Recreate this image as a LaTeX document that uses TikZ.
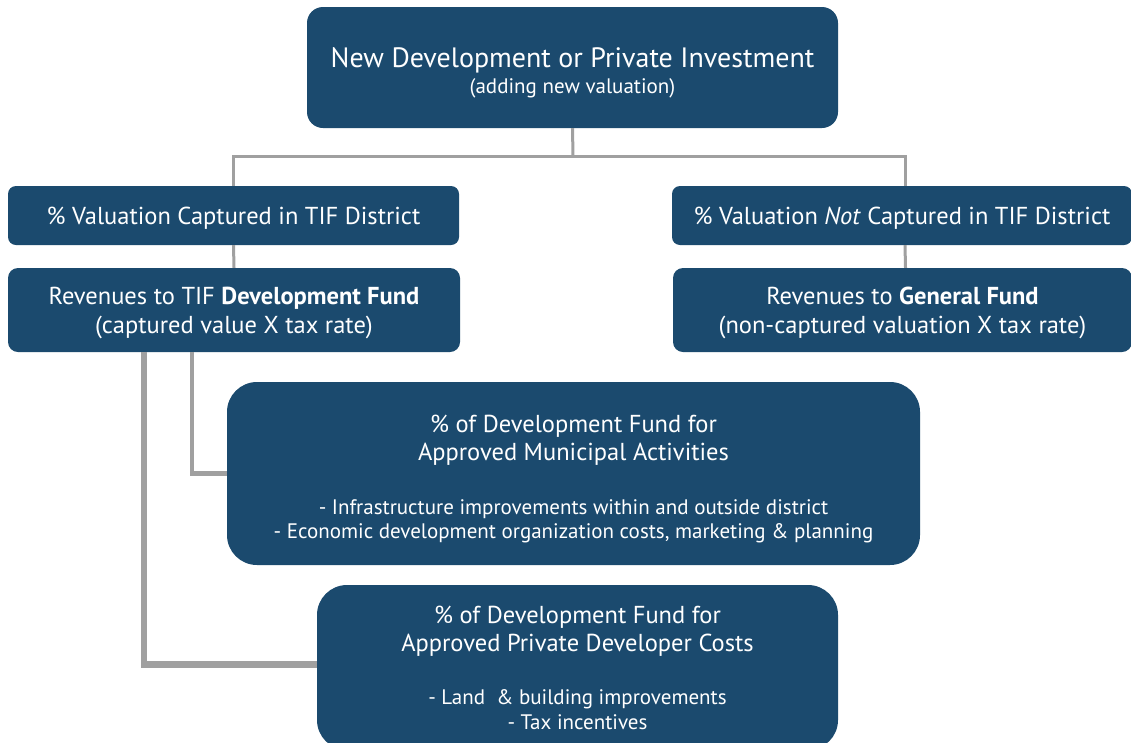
\documentclass[tikz,border=0pt]{standalone}
\usepackage{fontspec}
\setmainfont{PT Sans}
\definecolor{boxblue}{RGB}{27,74,110}
\definecolor{linegray}{RGB}{160,160,160}
\newcommand{\subsz}{\fontsize{21}{24}\selectfont}
\tikzset{
  box/.style={fill=boxblue, draw=none, rectangle, inner sep=0pt},
  txt/.style={text=white, align=center, inner sep=0pt, font=\fontsize{24.5}{29}\selectfont},
  conn/.style={draw=linegray, line width=3pt},
}
\begin{document}
\begin{tikzpicture}[x=1pt,y=-1pt]
\useasboundingbox (0,0) rectangle (1131,742);
\clip (0,0) rectangle (1131,742);
\fill[white] (0,0) rectangle (1131,742);

\node[box, rounded corners=16pt, minimum width=531pt, minimum height=121pt,
  label={[txt, font=\fontsize{28}{29}\selectfont, yshift=-5pt]center:{New Development or Private Investment\\[-3pt]{\subsz (adding new valuation)}}}] (top) at (572.5,67.5) {};

\node[box, rounded corners=8pt, minimum width=451pt, minimum height=59pt,
  label={[txt, yshift=-3pt]center:{\% Valuation Captured in TIF District}}] (lv) at (233.5,215.5) {};
\node[box, rounded corners=10pt, minimum width=452pt, minimum height=84pt,
  label={[txt, yshift=-3pt]center:{Revenues to TIF \textbf{Development Fund}\\(captured value X tax rate)}}] (lr) at (234,310) {};

\node[box, rounded corners=8pt, minimum width=460pt, minimum height=59pt,
  label={[txt, yshift=-3pt]center:{\% Valuation \textit{Not} Captured in TIF District}}] (rv) at (902,215.5) {};
\node[box, rounded corners=10pt, minimum width=459pt, minimum height=84pt,
  label={[txt, yshift=-3pt]center:{Revenues to \textbf{General Fund}\\(non-captured valuation X tax rate)}}] (rr) at (902.5,310) {};

\node[box, rounded corners=30pt, minimum width=693pt, minimum height=183pt,
  label={[txt, yshift=-5pt]center:{\% of Development Fund for\\[-1pt]Approved Municipal Activities\\[25pt]
   {\subsz - Infrastructure improvements within and outside district}\\[-5pt]
   {\subsz - Economic development organization costs, marketing \& planning}}}] (mun) at (573.5,473.5) {};

\node[box, rounded corners=30pt, minimum width=521pt, minimum height=165pt,
  label={[txt, yshift=0pt]center:{\% of Development Fund for\\[-1pt]Approved Private Developer Costs\\[24pt]
   {\subsz - Land\ \ \& building improvements}\\[-4pt]
   {\subsz - Tax incentives}}}] (priv) at (577.5,667.5) {};

\coordinate (j) at (573,156);
\draw[conn] (top.south) -- (j);
\draw[conn] (lv.north) |- (j) -| ([xshift=3pt]rv.north);
\draw[conn] (lv.south) -- (lr.north);
\draw[conn] ([xshift=3pt]rv.south) -- ([xshift=3pt]rr.north);
\draw[conn, line width=4.5pt] ([xshift=-42pt]lr.south) |- (mun.west);
\draw[conn, line width=6.5pt] ([xshift=-90pt]lr.south) |- ([yshift=3pt]priv.west);
\end{tikzpicture}
\end{document}
